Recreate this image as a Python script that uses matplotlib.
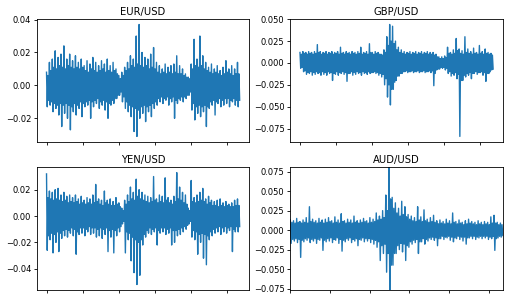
import numpy as np
import matplotlib
matplotlib.use("Agg")
import matplotlib.pyplot as plt

# daily log returns: for every step a peak, a trough,
# and then a peak and trough from the dense core of the band
days = 5360

eur_hi = [0.008, 0.014, 0.016, 0.021, 0.017, 0.019, 0.024, 0.016, 0.019, 0.015, 0.018, 0.014,
          0.016, 0.012, 0.015, 0.013, 0.017, 0.014, 0.012, 0.015, 0.013, 0.016, 0.012, 0.014,
          0.010, 0.006, 0.008, 0.011, 0.014, 0.018, 0.016, 0.030, 0.037, 0.020, 0.017, 0.016,
          0.019, 0.023, 0.014, 0.012, 0.010, 0.013, 0.011, 0.012, 0.013, 0.018, 0.012, 0.010,
          0.007, 0.005, 0.013, 0.028, 0.016, 0.030, 0.018, 0.014, 0.011, 0.013, 0.010, 0.012,
          0.009, 0.011, 0.015, 0.010, 0.012, 0.010, 0.014]
eur_lo = [-0.013, -0.012, -0.016, -0.014, -0.018, -0.025, -0.017, -0.020, -0.027, -0.016, -0.018, -0.014,
          -0.019, -0.013, -0.012, -0.020, -0.013, -0.011, -0.014, -0.012, -0.015, -0.020, -0.012, -0.011,
          -0.008, -0.006, -0.010, -0.014, -0.016, -0.019, -0.028, -0.031, -0.020, -0.017, -0.022, -0.016,
          -0.019, -0.014, -0.012, -0.010, -0.011, -0.009, -0.012, -0.010, -0.020, -0.011, -0.009, -0.010,
          -0.008, -0.006, -0.015, -0.021, -0.017, -0.019, -0.016, -0.025, -0.014, -0.012, -0.018, -0.011,
          -0.013, -0.012, -0.011, -0.013, -0.010, -0.012, -0.013]
eur_core_hi = [0.006, 0.009, 0.011, 0.010, 0.012, 0.011, 0.010, 0.012, 0.011, 0.010, 0.011, 0.010,
               0.011, 0.009, 0.008, 0.010, 0.009, 0.008, 0.009, 0.010, 0.008, 0.009, 0.008, 0.009,
               0.007, 0.004, 0.006, 0.009, 0.010, 0.012, 0.011, 0.013, 0.012, 0.011, 0.012, 0.010,
               0.011, 0.010, 0.008, 0.007, 0.008, 0.007, 0.008, 0.007, 0.008, 0.007, 0.007, 0.006,
               0.005, 0.004, 0.010, 0.012, 0.011, 0.012, 0.010, 0.009, 0.008, 0.007, 0.008, 0.007,
               0.006, 0.007, 0.008, 0.007, 0.006, 0.007, 0.007]
eur_core_lo = [-0.009, -0.010, -0.011, -0.012, -0.011, -0.012, -0.011, -0.012, -0.013, -0.011, -0.012, -0.010,
               -0.011, -0.010, -0.009, -0.010, -0.009, -0.008, -0.010, -0.009, -0.010, -0.011, -0.009, -0.008,
               -0.006, -0.004, -0.007, -0.010, -0.012, -0.013, -0.014, -0.015, -0.013, -0.012, -0.013, -0.012,
               -0.011, -0.010, -0.008, -0.007, -0.008, -0.007, -0.008, -0.007, -0.009, -0.008, -0.007, -0.007,
               -0.006, -0.004, -0.011, -0.013, -0.012, -0.013, -0.012, -0.013, -0.010, -0.009, -0.010, -0.008,
               -0.009, -0.008, -0.008, -0.009, -0.008, -0.009, -0.009]

gbp_hi = [0.012, 0.013, 0.012, 0.013, 0.012, 0.013, 0.021, 0.013, 0.012, 0.013, 0.012, 0.013,
          0.012, 0.013, 0.018, 0.012, 0.013, 0.012, 0.013, 0.012, 0.013, 0.018, 0.012, 0.013,
          0.022, 0.012, 0.013, 0.012, 0.010, 0.015, 0.030, 0.044, 0.042, 0.025, 0.018, 0.015,
          0.013, 0.012, 0.013, 0.012, 0.013, 0.012, 0.013, 0.012, 0.013, 0.012, 0.012, 0.010,
          0.007, 0.007, 0.008, 0.018, 0.012, 0.015, 0.028, 0.016, 0.014, 0.030, 0.016, 0.013,
          0.017, 0.012, 0.020, 0.013, 0.016, 0.012, 0.011]
gbp_lo = [-0.006, -0.010, -0.013, -0.012, -0.014, -0.013, -0.012, -0.014, -0.013, -0.014, -0.012, -0.020,
          -0.013, -0.014, -0.012, -0.013, -0.021, -0.012, -0.014, -0.013, -0.012, -0.014, -0.012, -0.013,
          -0.012, -0.011, -0.012, -0.014, -0.016, -0.025, -0.039, -0.048, -0.030, -0.020, -0.015, -0.012,
          -0.010, -0.011, -0.010, -0.011, -0.010, -0.011, -0.010, -0.011, -0.010, -0.011, -0.026, -0.008,
          -0.007, -0.006, -0.008, -0.012, -0.015, -0.014, -0.018, -0.084, -0.020, -0.016, -0.014, -0.018,
          -0.012, -0.013, -0.011, -0.014, -0.021, -0.012, -0.008]
gbp_core_hi = [0.010, 0.011, 0.010, 0.011, 0.010, 0.011, 0.012, 0.010, 0.011, 0.010, 0.011, 0.010,
               0.011, 0.010, 0.011, 0.010, 0.011, 0.010, 0.011, 0.010, 0.011, 0.010, 0.011, 0.010,
               0.012, 0.010, 0.011, 0.010, 0.009, 0.012, 0.020, 0.025, 0.022, 0.015, 0.012, 0.011,
               0.010, 0.011, 0.010, 0.011, 0.010, 0.011, 0.010, 0.011, 0.010, 0.010, 0.009, 0.007,
               0.005, 0.005, 0.006, 0.011, 0.010, 0.011, 0.014, 0.011, 0.010, 0.012, 0.011, 0.010,
               0.011, 0.010, 0.011, 0.010, 0.011, 0.010, 0.009]
gbp_core_lo = [-0.005, -0.009, -0.011, -0.010, -0.011, -0.010, -0.011, -0.010, -0.011, -0.010, -0.011, -0.012,
               -0.010, -0.011, -0.010, -0.011, -0.012, -0.010, -0.011, -0.010, -0.011, -0.010, -0.011, -0.010,
               -0.011, -0.010, -0.011, -0.012, -0.013, -0.018, -0.025, -0.030, -0.022, -0.015, -0.012, -0.010,
               -0.009, -0.010, -0.009, -0.010, -0.009, -0.010, -0.009, -0.010, -0.009, -0.009, -0.012, -0.007,
               -0.005, -0.005, -0.006, -0.010, -0.012, -0.011, -0.013, -0.020, -0.014, -0.012, -0.011, -0.012,
               -0.010, -0.011, -0.010, -0.011, -0.012, -0.010, -0.007]

yen_hi = [0.032, 0.019, 0.018, 0.020, 0.021, 0.016, 0.018, 0.015, 0.016, 0.014, 0.016, 0.013,
          0.015, 0.012, 0.014, 0.013, 0.016, 0.024, 0.013, 0.012, 0.019, 0.012, 0.013, 0.011,
          0.014, 0.010, 0.006, 0.012, 0.016, 0.022, 0.018, 0.028, 0.020, 0.018, 0.016, 0.015,
          0.014, 0.030, 0.013, 0.016, 0.015, 0.029, 0.014, 0.012, 0.015, 0.033, 0.022, 0.018,
          0.016, 0.006, 0.027, 0.014, 0.016, 0.018, 0.021, 0.013, 0.015, 0.012, 0.011, 0.012,
          0.013, 0.010, 0.011, 0.009, 0.010, 0.012, 0.013]
yen_lo = [-0.026, -0.018, -0.028, -0.020, -0.027, -0.017, -0.015, -0.016, -0.013, -0.015, -0.029, -0.014,
          -0.013, -0.015, -0.012, -0.014, -0.013, -0.016, -0.015, -0.017, -0.014, -0.027, -0.016, -0.028,
          -0.015, -0.012, -0.006, -0.028, -0.018, -0.034, -0.043, -0.052, -0.045, -0.022, -0.016, -0.013,
          -0.014, -0.012, -0.022, -0.013, -0.012, -0.014, -0.013, -0.022, -0.020, -0.015, -0.014, -0.012,
          -0.010, -0.006, -0.016, -0.018, -0.029, -0.020, -0.032, -0.037, -0.018, -0.015, -0.013, -0.012,
          -0.014, -0.012, -0.013, -0.011, -0.027, -0.012, -0.012]
yen_core_hi = [0.014, 0.013, 0.012, 0.013, 0.012, 0.011, 0.012, 0.010, 0.011, 0.010, 0.011, 0.009,
               0.010, 0.009, 0.010, 0.009, 0.010, 0.011, 0.009, 0.008, 0.010, 0.009, 0.008, 0.008,
               0.009, 0.007, 0.004, 0.009, 0.011, 0.013, 0.012, 0.015, 0.013, 0.012, 0.011, 0.010,
               0.011, 0.012, 0.010, 0.011, 0.010, 0.012, 0.010, 0.009, 0.011, 0.013, 0.012, 0.010,
               0.009, 0.004, 0.011, 0.010, 0.011, 0.012, 0.011, 0.009, 0.010, 0.008, 0.008, 0.007,
               0.008, 0.007, 0.008, 0.007, 0.007, 0.008, 0.008]
yen_core_lo = [-0.015, -0.013, -0.014, -0.012, -0.013, -0.011, -0.010, -0.011, -0.009, -0.010, -0.012, -0.009,
               -0.009, -0.010, -0.008, -0.009, -0.009, -0.010, -0.009, -0.010, -0.009, -0.011, -0.010, -0.011,
               -0.009, -0.008, -0.004, -0.012, -0.013, -0.016, -0.018, -0.020, -0.018, -0.014, -0.011, -0.009,
               -0.010, -0.009, -0.011, -0.009, -0.009, -0.010, -0.009, -0.011, -0.011, -0.010, -0.009, -0.008,
               -0.007, -0.004, -0.011, -0.012, -0.014, -0.013, -0.014, -0.015, -0.012, -0.010, -0.009, -0.008,
               -0.009, -0.008, -0.009, -0.008, -0.010, -0.008, -0.008]

aud_hi = [0.013, 0.012, 0.015, 0.011, 0.013, 0.016, 0.030, 0.014, 0.012, 0.015, 0.013, 0.014,
          0.016, 0.012, 0.017, 0.013, 0.021, 0.012, 0.014, 0.013, 0.018, 0.012, 0.013, 0.015,
          0.012, 0.016, 0.014, 0.022, 0.018, 0.025, 0.045, 0.081, 0.042, 0.035, 0.028, 0.037,
          0.030, 0.020, 0.018, 0.016, 0.030, 0.017, 0.026, 0.014, 0.016, 0.019, 0.012, 0.013,
          0.011, 0.014, 0.012, 0.022, 0.011, 0.013, 0.010, 0.012, 0.014, 0.011, 0.010, 0.012,
          0.010, 0.011, 0.010, 0.017, 0.019, 0.010, 0.009]
aud_lo = [-0.017, -0.014, -0.016, -0.035, -0.015, -0.013, -0.016, -0.014, -0.017, -0.013, -0.026, -0.015,
          -0.014, -0.016, -0.013, -0.017, -0.027, -0.015, -0.013, -0.016, -0.014, -0.020, -0.013, -0.015,
          -0.014, -0.016, -0.018, -0.022, -0.039, -0.030, -0.054, -0.077, -0.045, -0.030, -0.025, -0.028,
          -0.039, -0.022, -0.018, -0.016, -0.030, -0.015, -0.018, -0.014, -0.012, -0.013, -0.020, -0.011,
          -0.012, -0.010, -0.013, -0.015, -0.011, -0.012, -0.014, -0.018, -0.010, -0.011, -0.012, -0.010,
          -0.011, -0.010, -0.012, -0.011, -0.026, -0.010, -0.009]
aud_core_hi = [0.010, 0.009, 0.010, 0.009, 0.010, 0.009, 0.011, 0.010, 0.009, 0.010, 0.009, 0.010,
               0.011, 0.009, 0.010, 0.009, 0.011, 0.009, 0.010, 0.009, 0.010, 0.009, 0.010, 0.011,
               0.009, 0.010, 0.011, 0.013, 0.014, 0.016, 0.025, 0.040, 0.028, 0.022, 0.018, 0.020,
               0.017, 0.014, 0.012, 0.011, 0.013, 0.011, 0.012, 0.010, 0.011, 0.010, 0.008, 0.009,
               0.008, 0.009, 0.008, 0.010, 0.008, 0.009, 0.007, 0.008, 0.009, 0.008, 0.007, 0.008,
               0.007, 0.008, 0.007, 0.009, 0.009, 0.007, 0.007]
aud_core_lo = [-0.012, -0.011, -0.012, -0.013, -0.011, -0.010, -0.012, -0.011, -0.012, -0.010, -0.013, -0.011,
               -0.010, -0.012, -0.010, -0.012, -0.013, -0.011, -0.010, -0.012, -0.011, -0.012, -0.010, -0.011,
               -0.011, -0.012, -0.013, -0.015, -0.020, -0.018, -0.030, -0.045, -0.030, -0.020, -0.017, -0.018,
               -0.020, -0.015, -0.013, -0.012, -0.015, -0.011, -0.012, -0.010, -0.009, -0.010, -0.011, -0.008,
               -0.009, -0.008, -0.009, -0.010, -0.008, -0.009, -0.009, -0.010, -0.008, -0.008, -0.009, -0.008,
               -0.008, -0.008, -0.009, -0.008, -0.011, -0.008, -0.007]

titles = ["EUR/USD", "GBP/USD", "YEN/USD", "AUD/USD"]
series = [
    (eur_hi, eur_lo, eur_core_hi, eur_core_lo),
    (gbp_hi, gbp_lo, gbp_core_hi, gbp_core_lo),
    (yen_hi, yen_lo, yen_core_hi, yen_core_lo),
    (aud_hi, aud_lo, aud_core_hi, aud_core_lo),
]

plt.rcParams["font.size"] = 6
plt.rcParams["axes.titlesize"] = 7.2

fig, axes = plt.subplots(2, 2, figsize=(5.12, 3.0), dpi=100)
fig.subplots_adjust(left=0.072, right=0.982, top=0.937, bottom=0.033,
                    wspace=0.193, hspace=0.203)

for ax, title, parts in zip(axes.ravel(), titles, series):
    returns = np.column_stack(parts).ravel()
    x = np.linspace(0, days, len(returns))
    ax.plot(x, returns, color="#1f77b4", linewidth=1.0)
    ax.set_title(title, pad=3)
    ax.tick_params(length=2.2, width=0.6, pad=2, labelbottom=False)
    for s in ax.spines.values():
        s.set_linewidth(0.6)

# the last panel is drawn without padding
axes[1, 1].margins(0)

fig.savefig("out.png", dpi=100)
